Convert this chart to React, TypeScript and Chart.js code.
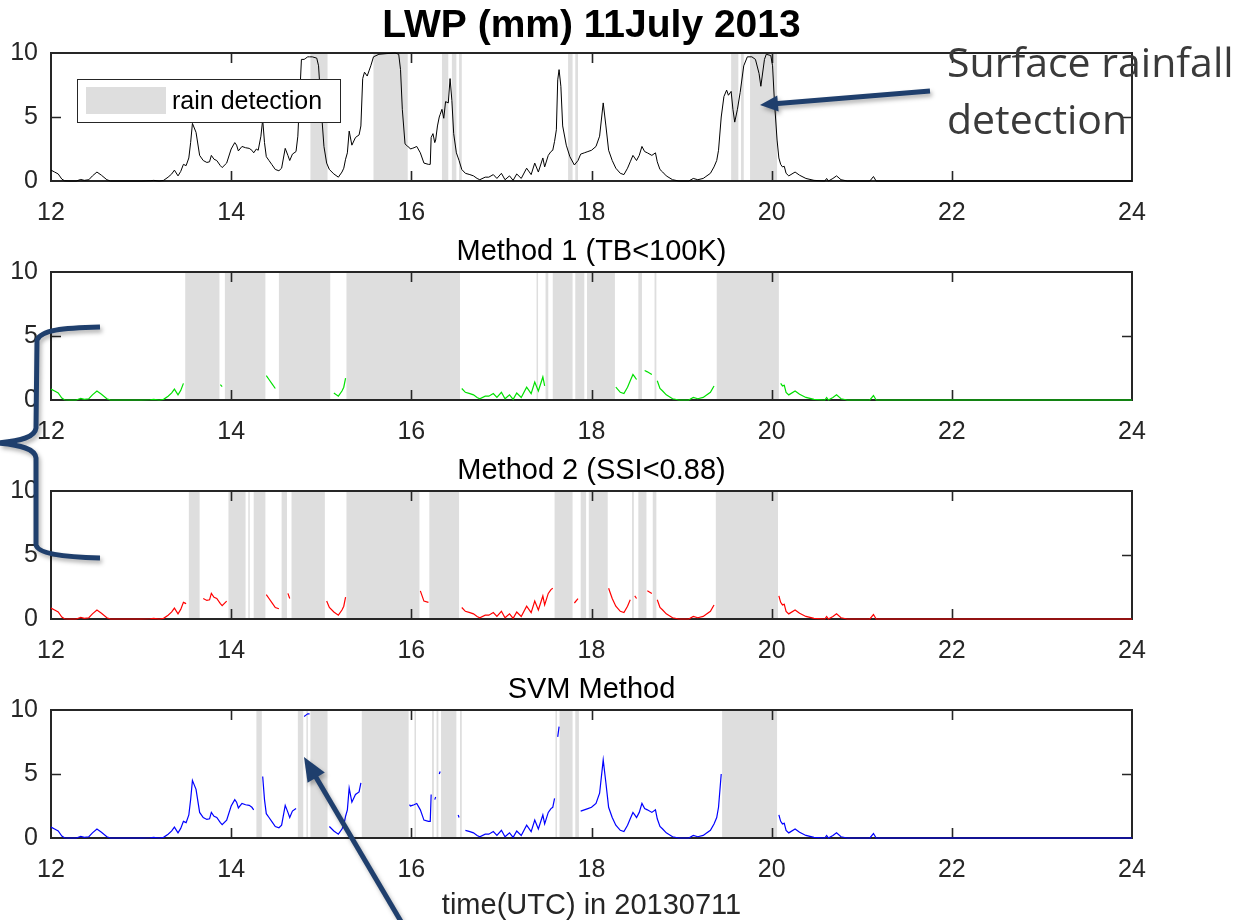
import React, { useEffect, useRef } from "react";
import { Chart, registerables } from "chart.js";

Chart.register(...registerables);

// ---------------- data ----------------
const lwpTime = [
  12.0, 12.04, 12.08, 12.12, 12.15, 12.2, 12.28, 12.33, 12.37, 12.42, 12.46, 12.51, 12.56, 12.62, 12.66,
  13.0, 13.1, 13.14, 13.2, 13.25, 13.3, 13.34, 13.37, 13.41, 13.44, 13.47, 13.5, 13.53, 13.55, 13.57,
  13.61, 13.65, 13.69, 13.73, 13.76, 13.78, 13.81, 13.84, 13.88, 13.9, 13.95, 14.0, 14.04, 14.06, 14.08,
  14.12, 14.16, 14.2, 14.23, 14.25, 14.28, 14.3, 14.33, 14.35, 14.37, 14.39, 14.42, 14.45, 14.49, 14.53,
  14.56, 14.6, 14.63, 14.65, 14.68, 14.72, 14.74, 14.75, 14.78, 14.81, 14.83, 14.85, 14.87, 14.9, 14.95,
  14.97, 15.0, 15.03, 15.06, 15.09, 15.14, 15.19, 15.23, 15.25, 15.27, 15.29, 15.31, 15.34, 15.38, 15.42,
  15.44, 15.46, 15.48, 15.51, 15.53, 15.55, 15.58, 15.64, 15.72, 15.82, 15.86, 15.88, 15.9, 15.93, 15.96,
  15.98, 15.99, 16.01, 16.03, 16.06, 16.1, 16.14, 16.19, 16.21, 16.22, 16.24, 16.26, 16.27, 16.29, 16.31,
  16.32, 16.34, 16.36, 16.38, 16.41, 16.43, 16.45, 16.47, 16.5, 16.52, 16.53, 16.56, 16.6, 16.65, 16.69,
  16.73, 16.76, 16.82, 16.86, 16.91, 16.95, 17.0, 17.04, 17.09, 17.13, 17.17, 17.22, 17.28, 17.33, 17.37,
  17.41, 17.46, 17.48, 17.52, 17.55, 17.57, 17.59, 17.61, 17.625, 17.64, 17.66, 17.68, 17.72, 17.76, 17.81,
  17.85, 17.88, 17.92, 17.96, 18.0, 18.05, 18.09, 18.13, 18.16, 18.19, 18.23, 18.27, 18.32, 18.36, 18.4,
  18.43, 18.46, 18.48, 18.5, 18.53, 18.56, 18.59, 18.62, 18.67, 18.71, 18.73, 18.76, 18.79, 18.83, 18.9,
  18.97, 19.08, 19.13, 19.18, 19.24, 19.27, 19.32, 19.36, 19.39, 19.41, 19.44, 19.47, 19.5, 19.52, 19.55,
  19.57, 19.59, 19.62, 19.65, 19.69, 19.73, 19.78, 19.82, 19.86, 19.88, 19.92, 19.94, 19.99, 20.01, 20.03,
  20.06, 20.08, 20.1, 20.12, 20.14, 20.16, 20.19, 20.26, 20.31, 20.38, 20.47, 20.59, 20.61, 20.63, 20.68,
  20.72, 20.77, 20.84, 21.09, 21.13, 21.16, 24.0,
];
const lwpValue = [
  0.85, 0.7, 0.55, 0.15, 0.02, 0.0, 0.0, 0.12, 0.05, 0.1, 0.4, 0.7, 0.45, 0.1, 0.0,
  0.0, 0.02, 0.05, 0.0, 0.05, 0.3, 0.55, 0.85, 0.4, 0.75, 1.3, 1.2, 1.8, 3.0, 4.5,
  3.8, 2.0, 1.6, 1.45, 1.5, 2.0, 1.7, 1.6, 1.2, 1.05, 1.4, 2.5, 3.0, 2.8, 2.35,
  2.7, 2.6, 2.55, 2.4, 2.2, 2.5, 2.4, 3.5, 4.8, 3.0, 1.9, 1.6, 1.3, 0.9, 0.8,
  1.0, 2.55, 2.0, 1.6, 2.1, 2.3, 3.5, 5.0, 9.5, 9.5, 9.6, 9.7, 9.7, 9.7, 9.6,
  9.0, 5.6, 2.7, 1.4, 0.9, 0.55, 0.3, 0.7, 1.0, 1.7, 2.2, 3.9, 2.8, 3.4, 3.6,
  4.3, 8.0, 8.5, 8.2, 8.6, 9.0, 9.7, 9.9, 9.95, 10.0, 9.9, 8.7, 5.6, 2.9, 2.7,
  2.6, 2.5, 2.55, 2.6, 2.7, 2.2, 1.4, 1.3, 1.3, 3.4, 3.7, 3.0, 3.2, 4.3, 5.0,
  5.2, 5.6, 4.9, 6.2, 6.1, 8.0, 6.3, 3.7, 2.2, 1.8, 1.6, 0.9, 0.6, 0.5, 0.4,
  0.2, 0.1, 0.3, 0.3, 0.5, 0.2, 0.6, 0.1, 0.4, 0.05, 0.55, 0.2, 1.0, 0.5, 1.4,
  0.7, 1.8, 1.1, 2.0, 2.3, 2.4, 3.1, 4.0, 7.9, 8.7, 7.4, 4.3, 2.8, 1.9, 1.25,
  1.6, 2.1, 2.2, 2.3, 2.4, 2.7, 3.5, 6.1, 4.3, 2.4, 1.6, 1.0, 0.6, 0.5, 1.0,
  1.5, 2.0, 1.8, 1.6, 2.0, 2.7, 2.3, 2.2, 2.0, 2.2, 1.5, 0.9, 0.7, 0.4, 0.1,
  0.0, 0.0, 0.2, 0.1, 0.2, 0.35, 0.6, 1.1, 1.6, 2.4, 5.0, 6.6, 7.1, 6.7, 7.0,
  5.6, 4.6, 5.6, 6.9, 9.0, 9.7, 9.7, 9.5, 8.4, 7.4, 9.5, 9.9, 9.8, 9.0, 6.3,
  3.2, 1.8, 1.3, 1.1, 1.15, 0.6, 0.4, 0.7, 0.45, 0.2, 0.05, 0.0, 0.2, 0.0, 0.2,
  0.4, 0.1, 0.0, 0.0, 0.35, 0.0, 0.0,
];

// rain detection periods [start, end] in hours UTC
const rainSurface = [
  [14.88, 15.07], [15.58, 15.96], [16.34, 16.41], [16.45, 16.5], [16.53, 16.56],
  [17.74, 17.79], [17.82, 17.85], [19.55, 19.63], [19.66, 19.69], [19.76, 20.06],
];
const rainMethod1 = [
  [13.49, 13.87], [13.93, 14.38], [14.53, 15.1], [15.28, 16.54], [17.39, 17.4], [17.49, 17.52],
  [17.57, 17.79], [17.82, 17.92], [17.95, 18.26], [18.52, 18.56], [18.7, 18.72], [19.39, 20.08],
];
const rainMethod2 = [
  [13.53, 13.65], [13.97, 14.16], [14.19, 14.2], [14.25, 14.38], [14.56, 14.62], [14.67, 15.04],
  [15.28, 16.09], [16.2, 16.53], [17.59, 17.79], [17.88, 17.94], [17.97, 18.18], [18.45, 18.47],
  [18.52, 18.61], [18.68, 18.72], [19.38, 20.07],
];
const rainSVM = [
  [14.28, 14.34], [14.74, 14.8], [14.835, 14.845], [14.88, 15.07], [15.45, 15.97], [16.035, 16.045],
  [16.23, 16.25], [16.28, 16.3], [16.33, 16.5], [16.54, 16.56], [17.6, 17.615], [17.645, 17.79],
  [17.82, 17.86], [19.45, 20.06],
];

const xTickValues = [12, 14, 16, 18, 20, 22, 24];
const yTickValues = [0, 5, 10];
const panelTitles = ["LWP (mm) 11July 2013", "Method 1 (TB<100K)", "Method 2 (SSI<0.88)", "SVM Method"];
const lineColors = ["#000000", "#00e000", "#ff0000", "#0000ff"];
const xAxisLabel = "time(UTC) in 20130711";
const legendLabel = "rain detection";
const noteLines = ["Surface rainfall", "detection"];

// ---------------- layout ----------------
const W = 1252;
const PLOT_LEFT = 51;
const PLOT_RIGHT = 1132;
const PLOT_H = 128;
const GRAY = "#dedede";
const AXIS = "#262626";
const FONT = "'Liberation Sans', Arial, sans-serif";
const NAVY = "#1f3f6d";

const panelLayout = [
  { canvasTop: 0, padTop: 53, axisH: 45 },
  { canvasTop: 222, padTop: 50, axisH: 45 },
  { canvasTop: 441, padTop: 50, axisH: 45 },
  { canvasTop: 660, padTop: 50, axisH: 85 },
];
const panelSpans = [rainSurface, rainMethod1, rainMethod2, rainSVM];

function inSpans(t: number, spans: number[][]) {
  return spans.some(([a, b]) => t >= a && t <= b);
}

function makePlugin(idx: number, spans: number[][]) {
  return {
    id: "panelDeco" + idx,
    beforeDatasetsDraw(chart: any) {
      const { ctx, chartArea: a, scales } = chart;
      const x = scales.x;
      const y = scales.y;
      ctx.save();
      ctx.fillStyle = GRAY;
      spans.forEach(([s, e]) => {
        const x0 = x.getPixelForValue(s);
        const x1 = x.getPixelForValue(e);
        ctx.fillRect(x0, a.top, Math.max(x1 - x0, 1.5), a.bottom - a.top);
      });
      ctx.strokeStyle = AXIS;
      ctx.lineWidth = 2;
      ctx.strokeRect(a.left, a.top, a.right - a.left, a.bottom - a.top);
      ctx.lineWidth = 1.6;
      ctx.beginPath();
      xTickValues.forEach((v) => {
        if (v === 12 || v === 24) return;
        const px = Math.round(x.getPixelForValue(v)) + 0.5;
        ctx.moveTo(px, a.bottom);
        ctx.lineTo(px, a.bottom - 10);
        ctx.moveTo(px, a.top);
        ctx.lineTo(px, a.top + 10);
      });
      yTickValues.forEach((v) => {
        if (v === 0 || v === 10) return;
        const py = Math.round(y.getPixelForValue(v)) + 0.5;
        ctx.moveTo(a.left, py);
        ctx.lineTo(a.left + 10, py);
        ctx.moveTo(a.right, py);
        ctx.lineTo(a.right - 10, py);
      });
      ctx.stroke();
      ctx.restore();
    },
    afterDatasetsDraw(chart: any) {
      const { ctx, chartArea: a } = chart;
      ctx.save();
      if (idx === 0) {
        // legend
        ctx.fillStyle = "#ffffff";
        ctx.fillRect(a.left + 26, a.top + 26, 263, 43);
        ctx.strokeStyle = AXIS;
        ctx.lineWidth = 1;
        ctx.strokeRect(a.left + 26.5, a.top + 26.5, 263, 43);
        ctx.fillStyle = GRAY;
        ctx.fillRect(a.left + 35, a.top + 34, 80, 27);
        ctx.fillStyle = "#000000";
        ctx.font = `25px ${FONT}`;
        ctx.textAlign = "left";
        ctx.textBaseline = "middle";
        ctx.fillText(legendLabel, a.left + 121, a.top + 49);
      }
      // title
      ctx.fillStyle = "#000000";
      ctx.textAlign = "center";
      ctx.textBaseline = "middle";
      const cx = (a.left + a.right) / 2;
      if (idx === 0) {
        ctx.font = `bold 39px ${FONT}`;
        ctx.fillText(panelTitles[0], cx, a.top - 27);
      } else {
        ctx.font = `29px ${FONT}`;
        ctx.fillText(panelTitles[idx], cx, a.top - 20);
      }
      ctx.restore();
    },
  };
}

function Arrow({ x1, y1, x2, y2, len, hw }: { x1: number; y1: number; x2: number; y2: number; len: number; hw: number }) {
  const dx = x2 - x1;
  const dy = y2 - y1;
  const d = Math.hypot(dx, dy);
  const ux = dx / d;
  const uy = dy / d;
  const nx = -uy;
  const ny = ux;
  const bx = x2 - ux * len;
  const by = y2 - uy * len;
  const pts = `${x2},${y2} ${bx + nx * hw},${by + ny * hw} ${bx - nx * hw},${by - ny * hw}`;
  return (
    <g>
      <line x1={x1} y1={y1} x2={bx + ux * 3} y2={by + uy * 3} stroke={NAVY} strokeWidth={5} />
      <polygon points={pts} fill={NAVY} />
    </g>
  );
}

export default function App() {
  const refs = [useRef<HTMLCanvasElement>(null), useRef<HTMLCanvasElement>(null), useRef<HTMLCanvasElement>(null), useRef<HTMLCanvasElement>(null)];

  useEffect(() => {
    const charts: Chart[] = [];
    panelLayout.forEach((p, idx) => {
      const canvas = refs[idx].current;
      if (!canvas) return;
      const spans = panelSpans[idx];
      const pts = lwpTime.map((t, i) => ({
        x: t,
        y: idx > 0 && inSpans(t, spans) ? null : lwpValue[i],
      }));
      const tickFont = { family: FONT, size: 25 };
      const chart = new Chart(canvas, {
        type: "line",
        data: {
          datasets: [
            {
              data: pts as any,
              borderColor: lineColors[idx],
              borderWidth: idx === 0 ? 1 : 1.2,
              pointRadius: 0,
              pointHoverRadius: 0,
              tension: 0,
              spanGaps: false,
              fill: false,
              clip: false as any,
            },
          ],
        },
        options: {
          animation: false,
          responsive: false,
          devicePixelRatio: 1,
          events: [],
          layout: { padding: { top: p.padTop, right: W - PLOT_RIGHT, left: 0, bottom: 0 } },
          plugins: {
            legend: { display: false },
            tooltip: { enabled: false },
            title: { display: false },
          },
          scales: {
            x: {
              type: "linear",
              min: 12,
              max: 24,
              ticks: { stepSize: 2, font: tickFont, color: AXIS, padding: 9, maxRotation: 0, autoSkip: false },
              grid: { display: false },
              border: { display: false },
              title:
                idx === 3
                  ? { display: true, text: xAxisLabel, font: { family: FONT, size: 29 }, color: AXIS, padding: { top: 0, bottom: 0 } }
                  : { display: false },
              afterFit: (s: any) => {
                s.height = p.axisH;
              },
            },
            y: {
              type: "linear",
              min: 0,
              max: 10,
              ticks: { stepSize: 5, font: tickFont, color: AXIS, padding: 5 },
              grid: { display: false },
              border: { display: false },
              afterFit: (s: any) => {
                s.width = PLOT_LEFT;
              },
            },
          },
        } as any,
        plugins: [makePlugin(idx, spans)],
      });
      charts.push(chart);
    });
    return () => charts.forEach((c) => c.destroy());
  }, []);

  return (
    <div style={{ position: "absolute", left: 0, top: 0, width: W, height: 920, overflow: "hidden", background: "#ffffff" }}>
      {panelLayout.map((p, idx) => (
        <canvas
          key={idx}
          ref={refs[idx]}
          width={W}
          height={p.padTop + PLOT_H + p.axisH}
          style={{ position: "absolute", left: 0, top: p.canvasTop, width: W, height: p.padTop + PLOT_H + p.axisH }}
        />
      ))}
      <svg
        width={W}
        height={920}
        style={{ position: "absolute", left: 0, top: 0, zIndex: 2, filter: "drop-shadow(2px 3px 2px rgba(0,0,0,0.3))" }}
      >
        <path
          d="M100,327 C62,328 41,330 37,340 L36,428 C35,437 22,441 -4,443 C22,445 35,449 36,458 L36,545 C38,553 60,557 100,558"
          fill="none"
          stroke={NAVY}
          strokeWidth={5}
        />
        <Arrow x1={930} y1={91} x2={760} y2={105} len={18} hw={8} />
        <Arrow x1={406} y1={930} x2={304} y2={757} len={24} hw={10} />
      </svg>
      <div
        style={{
          position: "absolute",
          left: 947,
          top: 33,
          zIndex: 3,
          fontFamily: "'Open Sans', sans-serif",
          fontSize: 41,
          lineHeight: "57px",
          color: "#3a3a3a",
          whiteSpace: "pre",
        }}
      >
        {noteLines[0]}
        <br />
        {noteLines[1]}
      </div>
    </div>
  );
}
